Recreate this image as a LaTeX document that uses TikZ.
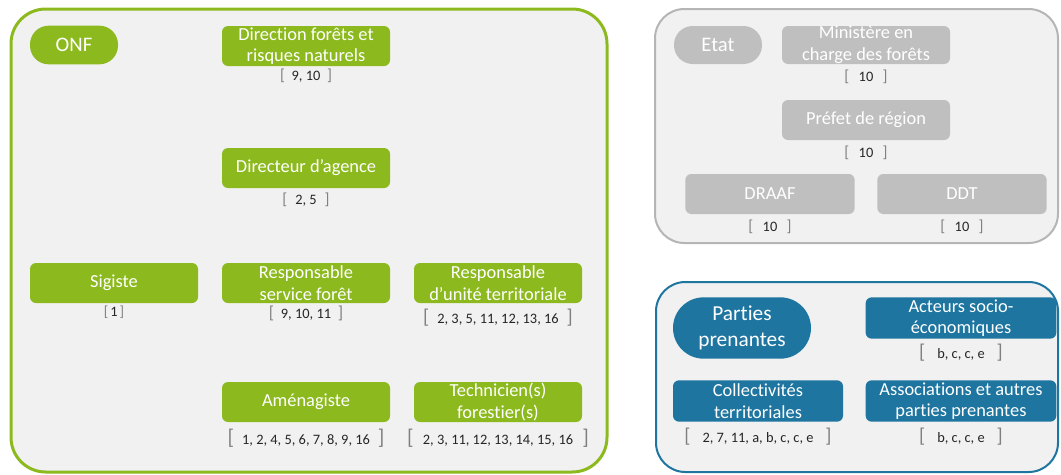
\documentclass[tikz,border=0pt]{standalone}
\usepackage{fontspec}
\setmainfont{Carlito}[Ligatures={TeX,NoCommon}]
\usetikzlibrary{positioning}

\definecolor{onfgreen}{HTML}{8CBA1E}
\definecolor{etatgray}{HTML}{BFBFBF}
\definecolor{etatline}{HTML}{B5B5B5}
\definecolor{ppblue}{HTML}{1D75A0}
\definecolor{panelbg}{HTML}{F1F1F1}
\definecolor{brkgray}{HTML}{7F7F7F}

\newcommand{\boxfont}{\fontsize{13.8}{16.2}\selectfont}
\newcommand{\reffont}{\fontsize{10.8}{12}\selectfont}
\newcommand{\brk}[2]{{\color{brkgray}\fontsize{#1}{#1}\selectfont#2}}
\newcommand{\refs}[3][13]{\brk{#1}{[}\hspace{#2}#3\hspace{#2}\brk{#1}{]}}

\begin{document}
\begin{tikzpicture}[x=0.75pt,y=-0.75pt,
  every node/.style={inner sep=0pt},
  card/.style={rounded corners=4.5pt, minimum width=126pt, minimum height=30pt,
    align=center, text=white, font=\boxfont},
  onfcard/.style={card, fill=onfgreen},
  etatcard/.style={card, fill=etatgray},
  ppcard/.style={card, fill=ppblue, minimum height=31pt},
  pill/.style={rounded corners=14pt, minimum width=66pt, minimum height=29pt,
    align=center, text=white, font=\fontsize{15.5}{18}\selectfont},
  refs/.style={font=\reffont, text=black!85}]
\useasboundingbox (0,0) rectangle (1061,475);

% panels
\draw [onfgreen, line width=2.25pt, fill=panelbg, rounded corners=26pt] (11,9) rectangle (607,472);
\draw [etatline, line width=1.5pt, fill=panelbg, rounded corners=22pt] (655,9) rectangle (1058,243);
\draw [ppblue, line width=1.5pt, fill=panelbg, rounded corners=22pt] (656,282) rectangle (1058,472);

% ONF
\node [pill, fill=onfgreen] (onf) at (74,45) {ONF};
\node [onfcard] (dirfor) at (306,46) {Direction forêts et\\risques naturels};
\node [refs] (dirforref) at (306,76) {\refs[12]{5pt}{9, 10}};
\node [onfcard] (diragence) at (306,168) {Directeur d’agence};
\node [refs] (diragenceref) at (306,200) {\refs[12]{6pt}{2, 5}};
\node [onfcard] (sigiste) at (114,283) {Sigiste};
\node [refs] (sigisteref) at (114,312) {\refs[11]{1.5pt}{1}};
\node [onfcard] (respserv) at (306,283) {Responsable\\service forêt};
\node [refs] (respservref) at (306,313) {\refs[13]{5pt}{9, 10, 11}};
\node [onfcard] (respunit) at (498,283) {Responsable\\d’unité territoriale};
\node [refs] (respunitref) at (498,318) {\refs[15]{6pt}{2, 3, 5, 11, 12, 13, 16}};
\node [onfcard] (amenag) at (306,402) {Aménagiste};
\node [refs] (amenagref) at (306,438) {\refs[16]{6pt}{1, 2, 4, 5, 6, 7, 8, 9, 16}};
\node [onfcard] (techfor) at (498,402) {Technicien(s)\\forestier(s)};
\node [refs] (techforref) at (498,438) {\refs[16]{7pt}{2, 3, 11, 12, 13, 14, 15, 16}};

% Etat
\node [pill, fill=etatgray, minimum height=28.5pt] (etat) at (718,45) {Etat};
\node [etatcard, minimum height=28.5pt] (minist) at (866,45) {Ministère en\\charge des forêts};
\node [refs] (ministref) at (866,77) {\refs[12]{7pt}{10}};
\node [etatcard] (prefet) at (866,120) {Préfet de région};
\node [refs] (prefetref) at (866,153) {\refs[12]{7pt}{10}};
\node [etatcard, minimum width=127pt] (draaf) at (770,194) {DRAAF};
\node [refs] (draafref) at (770,227) {\refs[12]{7pt}{10}};
\node [etatcard, minimum width=127pt] (ddt) at (962,194) {DDT};
\node [refs] (ddtref) at (962,227) {\refs[12]{7pt}{10}};

% Parties prenantes
\node [pill, fill=ppblue, minimum width=103.5pt, minimum height=46pt, rounded corners=23pt,
  font=\fontsize{16}{19}\selectfont] (pp) at (742,328) {Parties\\prenantes};
\node [ppcard, minimum width=143pt] (acteurs) at (961,318) {Acteurs socio-\\économiques};
\node [refs] (acteursref) at (961,353) {\refs[15]{9pt}{b, c, c, e}};
\node [ppcard, minimum width=127.5pt] (collect) at (758,401) {Collectivités\\territoriales};
\node [refs] (collectref) at (758,437) {\refs[15]{9pt}{2, 7, 11, a, b, c, c, e}};
\node [ppcard, minimum width=143pt] (assoc) at (961,401) {Associations et autres\\parties prenantes};
\node [refs] (assocref) at (961,437) {\refs[15]{9pt}{b, c, c, e}};
\end{tikzpicture}
\end{document}
